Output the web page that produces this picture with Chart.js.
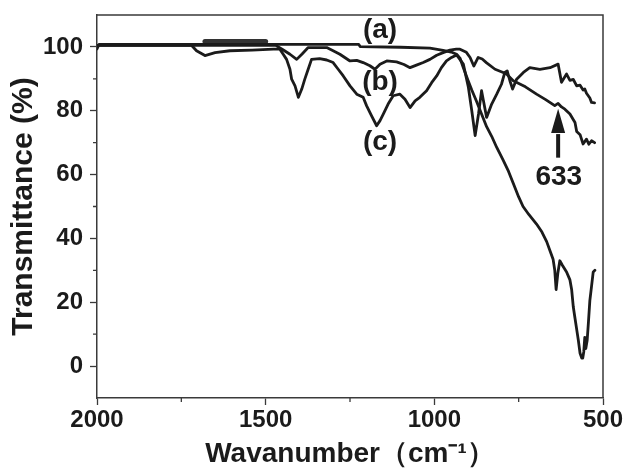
<!DOCTYPE html>
<html><head><meta charset="utf-8">
<script src="https://cdn.jsdelivr.net/npm/chart.js@4"></script>
<style>html,body{margin:0;padding:0;background:#fff;}#wrap{width:624px;height:470px;}</style>
</head><body><div id="wrap"><canvas id="c" width="624" height="470"></canvas></div>
<script>
// ---- data (wavenumber cm-1, transmittance %) ----
const waveA = [2000,1994,1700,1224,1220,1100,1013,974,950,934,924,914,900,889,875,860,845,830,815,796,780,767,750,737,720,697,681,667,655,648,643,639,634,628,620,608,598,593,588,583,578,573,568,563,560,557,554,551,547,543,539,534,529,524];
const transA = [99.4,100.8,100.8,100.8,100.1,99.9,99.6,98.9,98.4,97.7,96.5,93.5,89.5,86.5,83,79,75,72,68.5,64.5,61,57.5,53,50,47.5,44.5,42,39,35.5,33.5,30,24,29,33,31.5,29.5,27,24,18.5,15,11.5,8,4,2.5,2.5,4.5,9,5.5,8,14,20.5,25,29.5,30];

const waveB = [2000,1470,1450,1428,1408,1392,1374,1319,1300,1280,1250,1230,1211,1191,1176,1161,1141,1112,1090,1072,1053,1033,1013,993,974,954,935,924,905,894,883,870,858,845,820,796,786,766,730,697,670,643,633,623,613,598,583,578,568,559,549,542,534,525];
const transB = [100.5,100.5,99.2,97.7,96.1,97.8,99.8,99.8,98.8,97.7,95.6,95.8,95.1,94.1,93,94.6,95.6,95.3,94.5,93.5,94.3,95.1,96.1,97.4,98.2,99,99.3,99.3,98.3,96.7,94,96.7,96.2,95,93,92,91.5,89.4,87.5,85.2,83.5,81.6,82.3,81.2,80.5,79,76.3,73.5,72.5,69.6,71.1,69.5,70.6,70];

const waveC = [2000,1720,1705,1680,1650,1606,1540,1477,1458,1448,1438,1428,1423,1413,1403,1393,1384,1374,1364,1340,1319,1300,1285,1270,1250,1230,1211,1201,1186,1171,1161,1151,1137,1122,1102,1087,1072,1057,1043,1023,1008,993,979,964,949,934,914,899,889,879,869,860,845,830,815,801,791,784,776,768,756,736,717,687,657,633,623,608,598,588,578,568,559,554,549,539,534,525];
const transC = [100.5,100.5,98.8,97.3,98.2,98.8,99.0,99.3,99.3,97.7,96.1,93,89.9,87.8,84.2,86.8,89.9,93,96.1,96.3,95.9,95.1,93,90.9,87.8,85.2,84.2,81.6,78.4,75.3,76.9,79,82.1,84.7,85.2,83.6,81,83.1,84.2,86.3,88.8,90.9,93.5,95.6,96.7,97.5,94.6,87.3,80,72.2,79,86.3,77.9,82.1,85.2,88.3,92,92.5,89.4,86.8,89.9,92,93.5,93,93.5,94.6,88.9,91.5,89.5,89.8,87.8,88,86.5,86.8,85.5,84,82.6,82.5];

const waveBar = [1680,1500];
const transBar = [101.7,101.7];

const xMajorTicks = [2000,1500,1000,500];
const xMinorTicks = [1750,1250,750];
const yMajorTicks = [0,20,40,60,80,100];
const yMinorTicks = [10,30,50,70,90];

const labels = [
  {text:'(a)', x:1161, y:105.3},
  {text:'(b)', x:1161, y:88.8},
  {text:'(c)', x:1161, y:70},
  {text:'633', x:631, y:59}
];
const arrowAt = {x:633, tip:80.6, base:73, tail:65.3};

const pts = (xs, ys) => xs.map((v,i)=>({x:v, y:ys[i]}));
const FONT = '"Liberation Sans", Arial, sans-serif';
const INK = '#1b1b1b';
const AX = '#3a3a3a';

const framePlugin = {
  id:'frame',
  afterDraw(chart){
    const {ctx, chartArea:a, scales:{x,y}} = chart;
    ctx.save();
    ctx.strokeStyle = AX; ctx.lineWidth = 1.5;
    ctx.beginPath();
    ctx.moveTo(a.left, a.top); ctx.lineTo(a.right, a.top); ctx.lineTo(a.right, a.bottom);
    ctx.stroke();
    // minor ticks
    ctx.lineWidth = 1.3;
    ctx.beginPath();
    xMinorTicks.forEach(v=>{const px=x.getPixelForValue(v); ctx.moveTo(px,a.bottom); ctx.lineTo(px,a.bottom+4);});
    yMinorTicks.forEach(v=>{const py=y.getPixelForValue(v); ctx.moveTo(a.left,py); ctx.lineTo(a.left-4,py);});
    ctx.stroke();
    // annotations
    ctx.fillStyle = INK; ctx.font = 'bold 28px ' + FONT;
    ctx.textAlign = 'center'; ctx.textBaseline = 'middle';
    labels.forEach(l=>ctx.fillText(l.text, x.getPixelForValue(l.x), y.getPixelForValue(l.y)));
    const ax = x.getPixelForValue(arrowAt.x);
    const tip = y.getPixelForValue(arrowAt.tip), base = y.getPixelForValue(arrowAt.base), tail = y.getPixelForValue(arrowAt.tail);
    ctx.strokeStyle = INK; ctx.lineWidth = 4;
    ctx.beginPath(); ctx.moveTo(ax, tail); ctx.lineTo(ax, base+1); ctx.stroke();
    ctx.beginPath(); ctx.moveTo(ax, tip); ctx.lineTo(ax-7, base); ctx.lineTo(ax+7, base); ctx.closePath(); ctx.fill();
    ctx.restore();
  }
};

const lineDs = (data) => ({data, borderColor:INK, borderWidth:2.8, pointRadius:0, tension:0, borderJoinStyle:'round', borderCapStyle:'round', fill:false});

new Chart(document.getElementById('c'), {
  type:'line',
  data:{datasets:[
    lineDs(pts(waveA, transA)),
    lineDs(pts(waveB, transB)),
    lineDs(pts(waveC, transC)),
    {data:pts(waveBar, transBar), borderColor:'#333', borderWidth:5, pointRadius:0, borderCapStyle:'round'},
    {data:pts(waveBar, transBar), borderColor:'#9a9a9a', borderWidth:2.6, pointRadius:0}
  ]},
  options:{
    responsive:false, animation:false, devicePixelRatio:1,
    layout:{padding:{top:15,right:21,bottom:0,left:0}},
    plugins:{legend:{display:false}, tooltip:{enabled:false}},
    scales:{
      x:{
        type:'linear', reverse:true, min:500, max:2000,
        afterFit(s){ s.height = 72; s.paddingLeft = 0; s.paddingRight = 0; },
        border:{color:AX, width:1.5},
        grid:{drawOnChartArea:false, tickLength:7, tickWidth:1.3,
          tickColor: c => (c.tick && xMajorTicks.includes(c.tick.value)) ? AX : 'rgba(0,0,0,0)'},
        ticks:{stepSize:250, autoSkip:false, maxRotation:0, padding:1, color:INK,
          font:{family:FONT, size:24, weight:'bold'},
          callback: v => xMajorTicks.includes(v) ? String(v) : ''},
        title:{display:true, text:'Wavanumber（cm⁻¹）', color:INK,
          font:{family:FONT, size:28, weight:'bold'}, padding:{top:0,bottom:-1}}
      },
      y:{
        type:'linear', min:-10, max:110,
        afterFit(s){ s.width = 97; s.paddingTop = 0; s.paddingBottom = 0; },
        border:{color:AX, width:1.5},
        grid:{drawOnChartArea:false, tickLength:7, tickWidth:1.3,
          tickColor: c => (c.tick && yMajorTicks.includes(c.tick.value)) ? AX : 'rgba(0,0,0,0)'},
        ticks:{stepSize:10, autoSkip:false, padding:7, color:INK,
          font:{family:FONT, size:24, weight:'bold'},
          callback: v => yMajorTicks.includes(v) ? String(v) : ''},
        title:{display:true, text:'Transmittance (%)', color:INK,
          font:{family:FONT, size:30, weight:'bold'}, padding:{top:6,bottom:0}}
      }
    }
  },
  plugins:[framePlugin]
});
</script></body></html>
